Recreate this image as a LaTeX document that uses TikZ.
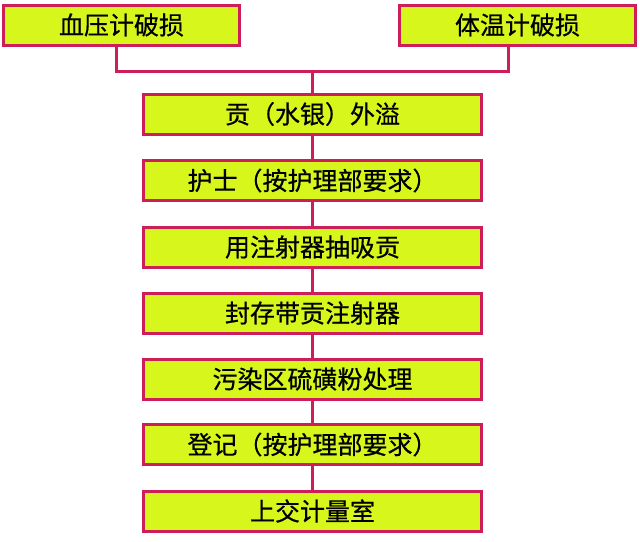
\documentclass[tikz,border=0pt]{standalone}
\usepackage{fontspec}
\newfontfamily\cjk[FakeBold=0.6]{Noto Sans CJK SC}
\definecolor{edge}{RGB}{205,30,90}
\definecolor{boxfill}{RGB}{214,246,28}
\begin{document}
\begin{tikzpicture}[x=1pt,y=-1pt,
  box/.style={draw=edge,line width=3pt,fill=boxfill,minimum height=40pt,inner sep=0pt,font=\cjk\fontsize{25}{27}\selectfont,text=black},
  topbox/.style={box,minimum width=236pt},
  midbox/.style={box,minimum width=338pt},
  link/.style={draw=edge,line width=3pt}]
\useasboundingbox (0,0) rectangle (640,541);
\fill[white] (0,0) rectangle (640,541);
\node[topbox] (a) at (121.5,25) {血压计破损};
\node[topbox] (b) at (517.5,25) {体温计破损};
\node[midbox] (m1) at (312.5,114) {贡（水银）外溢};
\node[midbox] (m2) at (312.5,180.5) {护士（按护理部要求）};
\node[midbox] (m3) at (312.5,247) {用注射器抽吸贡};
\node[midbox] (m4) at (312.5,313) {封存带贡注射器};
\node[midbox] (m5) at (312.5,379) {污染区硫磺粉处理};
\node[midbox] (m6) at (312.5,444.5) {登记（按护理部要求）};
\node[midbox] (m7) at (312.5,511) {上交计量室};
\coordinate (jl) at (116,71);
\coordinate (jr) at (508,71);
\coordinate (jm) at (312.5,71);
\draw[link] (a.south -| jl) -- (jl) -- (jr) -- (b.south -| jr);
\draw[link] (jm) -- (m1.north);
\draw[link] (m1) -- (m2);
\draw[link] (m2) -- (m3);
\draw[link] (m3) -- (m4);
\draw[link] (m4) -- (m5);
\draw[link] (m5) -- (m6);
\draw[link] (m6) -- (m7);
\end{tikzpicture}
\end{document}
